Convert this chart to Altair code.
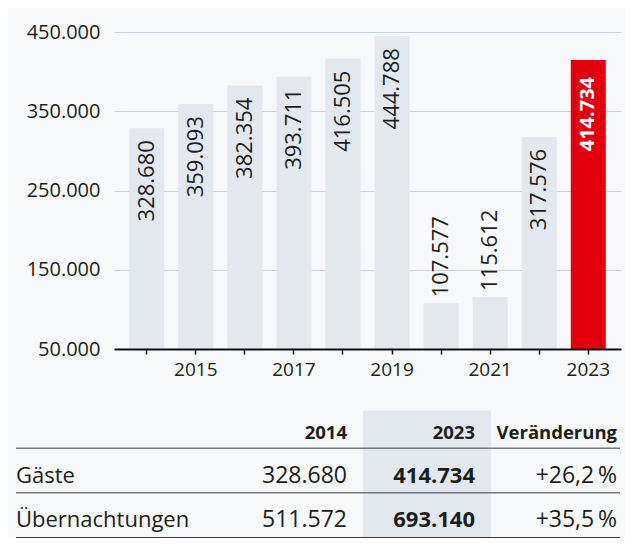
import altair as alt
import pandas as pd

# ---------------- data ----------------
years = [2014, 2015, 2016, 2017, 2018, 2019, 2020, 2021, 2022, 2023]
guests = [328680, 359093, 382354, 393711, 416505, 444788, 107577, 115612, 317576, 414734]
y_ticks = [50000, 150000, 250000, 350000, 450000]

table_cols = ["2014", "2023", "Veränderung"]
table_rows = ["Gäste", "Übernachtungen"]
values_2014 = ["328.680", "511.572"]
values_2023 = ["414.734", "693.140"]
changes = ["+26,2\u2009%", "+35,5\u2009%"]

# ---------------- style ----------------
FONT = "Open Sans"
INK = "#1d1d1b"
BAR = "#e3e8ef"
RED = "#e2000f"
BG = "#f7f8fa"
GRID = "#c8d4e3"

bars_df = pd.DataFrame({"year": years, "guests": guests})
bars_df["label"] = [f"{v:,}".replace(",", ".") for v in guests]

x_enc = alt.X(
    "year:O",
    title=None,
    scale=alt.Scale(paddingInner=0.286, paddingOuter=0.31),
    axis=alt.Axis(
        labelExpr="datum.value % 2 == 1 ? datum.label : ''",
        labelAngle=0, labelFont=FONT, labelFontSize=19, labelColor=INK,
        labelPadding=6, domainColor="#111111", domainWidth=2,
        tickColor="#111111", tickWidth=1.5, tickSize=5, grid=False, zindex=1,
        title=None,
    ),
)
y_enc = alt.Y(
    "guests:Q",
    title=None,
    scale=alt.Scale(domain=[50000, 450000], zero=False, nice=False),
    axis=alt.Axis(
        values=y_ticks,
        labelExpr="replace(format(datum.value, ','), regexp(',', 'g'), '.')",
        labelFont=FONT, labelFontSize=20, labelColor=INK, labelPadding=14,
        domain=False, ticks=False, tickSize=0, gridColor=GRID, gridWidth=1,
        title=None,
    ),
)

base = alt.Chart(bars_df)
bars = base.mark_bar().encode(
    x=x_enc, y=y_enc, y2=alt.datum(50000),
    color=alt.condition("datum.year == 2023", alt.value(RED), alt.value(BAR)),
)
inside = base.transform_filter("datum.guests >= 200000 && datum.year != 2023").mark_text(
    angle=270, align="right", baseline="middle", dx=-12,
    font=FONT, fontSize=22, color=INK,
).encode(x=x_enc, y=y_enc, text="label:N")
outside = base.transform_filter("datum.guests < 200000").mark_text(
    angle=270, align="left", baseline="middle", dx=6,
    font=FONT, fontSize=22, color=INK,
).encode(x=x_enc, y=y_enc, text="label:N")
red_label = base.transform_filter("datum.year == 2023").mark_text(
    angle=270, align="right", baseline="middle", dx=-17,
    font=FONT, fontSize=20, fontWeight="bold", color="white",
).encode(x=x_enc, y=y_enc, text="label:N")

top = alt.layer(bars, inside, outside, red_label).properties(width=507, height=317)

# ---------------- table ----------------
recs = [{"row": "head", "col": c, "text": c} for c in table_cols]
for i, r in enumerate(table_rows):
    recs.append({"row": r, "col": "label", "text": r})
    recs.append({"row": r, "col": "2014", "text": values_2014[i]})
    recs.append({"row": r, "col": "2023", "text": values_2023[i]})
    recs.append({"row": r, "col": "Veränderung", "text": changes[i]})
tdf = pd.DataFrame(recs)
row_domain = ["head"] + table_rows

tx_scale = alt.Scale(domain=table_cols, paddingInner=0, paddingOuter=0.48, align=0.984)
ty_scale = alt.Scale(domain=row_domain, range=[-7, 127], paddingInner=0, paddingOuter=0)
tx_text = alt.X("col:N", bandPosition=1, scale=tx_scale, axis=None)
ty_text = alt.Y("row:N", scale=ty_scale, axis=None)

tbase = alt.Chart(tdf)
highlight = tbase.transform_filter("datum.row == 'head' && datum.col == '2023'").mark_rect(
    color=BAR
).encode(x=alt.X("col:N", scale=tx_scale, axis=None))
rules = tbase.transform_filter("datum.col == '2014'").mark_rule(
    color="#3a3a3a", strokeWidth=1
).encode(
    y=alt.Y("row:N", bandPosition=1, scale=ty_scale, axis=None),
    x=alt.value(-98), x2=alt.value(506),
)
row_labels = tbase.transform_filter("datum.col == 'label'").mark_text(
    align="left", baseline="middle", dx=-98, dy=5,
    font=FONT, fontSize=22, color=INK,
).encode(x=alt.value(0), y=ty_text, text="text:N")
head_a = tbase.transform_filter("datum.row == 'head' && datum.col != 'Veränderung'").mark_text(
    align="right", baseline="middle", dx=-16, dy=7,
    font=FONT, fontSize=18.5, fontWeight="bold", color=INK,
).encode(x=tx_text, y=ty_text, text="text:N")
head_b = tbase.transform_filter("datum.row == 'head' && datum.col == 'Veränderung'").mark_text(
    align="right", baseline="middle", dx=-2, dy=7,
    font=FONT, fontSize=18.5, fontWeight="bold", color=INK,
).encode(x=tx_text, y=ty_text, text="text:N")
body_2014 = tbase.transform_filter("datum.row != 'head' && datum.col == '2014'").mark_text(
    align="right", baseline="middle", dx=-16, dy=5,
    font=FONT, fontSize=23, color=INK,
).encode(x=tx_text, y=ty_text, text="text:N")
body_2023 = tbase.transform_filter("datum.row != 'head' && datum.col == '2023'").mark_text(
    align="right", baseline="middle", dx=-16, dy=5,
    font=FONT, fontSize=22, fontWeight="bold", color=INK,
).encode(x=tx_text, y=ty_text, text="text:N")
body_change = tbase.transform_filter("datum.row != 'head' && datum.col == 'Veränderung'").mark_text(
    align="right", baseline="middle", dx=-2, dy=5,
    font=FONT, fontSize=23, color=INK,
).encode(x=tx_text, y=ty_text, text="text:N")

table = alt.layer(
    highlight, rules, row_labels, head_a, head_b, body_2014, body_2023, body_change
).properties(width=507, height=127)

chart = alt.vconcat(top, table, spacing=31.5).properties(
    padding={"left": 7, "top": 14, "right": 4, "bottom": 0},
    background=BG,
).configure_view(strokeWidth=0)

chart.save("out.html", embed_options={"renderer": "svg", "actions": False})
